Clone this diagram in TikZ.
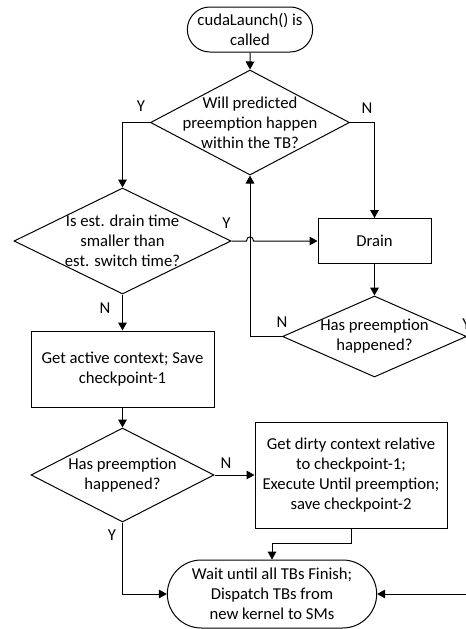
\documentclass[tikz,border=0pt]{standalone}
\usepackage{fontspec}
\setmainfont{Carlito}
\usetikzlibrary{shapes.geometric,shapes.misc,arrows.meta}

\begin{document}
\begin{tikzpicture}[x=0.75pt,y=-0.75pt,line width=0.75pt,
    >={Triangle[length=6pt,width=6.5pt]},
    every node/.style={font=\fontsize{12.5}{15}\selectfont},
    term/.style={draw,rounded rectangle,align=center,inner sep=1pt},
    proc/.style={draw,rectangle,align=center,inner sep=1pt},
    dmd/.style={draw,diamond,inner sep=0pt},
    txt/.style={align=center,inner sep=0pt}]
    \useasboundingbox (0,0) rectangle (465,629);
    % start and decisions
    \node[term,minimum width=96pt,minimum height=33.75pt] (start) at (250,29.5) {cudaLaunch() is\\called};
    \node[dmd,minimum width=149.25pt,minimum height=78.75pt] (pred) at (250,122.5) {};
    \node[txt] (predtxt) at (pred) {Will predicted\\preemption happen\\within the TB?};
    \node[dmd,minimum width=162.75pt,minimum height=79.5pt] (cmp) at (122.5,241) {};
    \node[txt] (cmptxt) at (cmp) {Is est. drain time\\smaller than\\est. switch time?};
    \node[proc,minimum width=84.75pt,minimum height=33.75pt] (drain) at (374.5,241) {Drain};
    \node[dmd,minimum width=138pt,minimum height=60.75pt] (hasA) at (374.5,336.5) {};
    \node[txt] (hasAtxt) at (hasA) {Has preemption\\happened?};
    % checkpoint path
    \node[proc,minimum width=137.25pt,minimum height=57pt] (save) at (122.5,369) {Get active context; Save\\checkpoint-1};
    \node[dmd,minimum width=137.25pt,minimum height=70.5pt] (hasB) at (122.5,475) {};
    \node[txt] (hasBtxt) at (hasB) {Has preemption\\happened?};
    \node[proc,minimum width=144pt,minimum height=79.5pt] (dirty) at (351,475) {Get dirty context relative\\to checkpoint-1;\\Execute Until preemption;\\save checkpoint-2};
    \node[term,minimum width=159pt,minimum height=51pt] (done) at (272,594) {Wait until all TBs Finish;\\Dispatch TBs from\\new kernel to SMs};
    % Y/N marks
    \node (y1) at (141,106) {Y};
    \node (n1) at (367,108) {N};
    \node (y2) at (226.5,223) {Y};
    \node (n2) at (105,308) {N};
    \node (n3) at (282,322) {N};
    \node (y3) at (466.5,324) {Y};
    \node (n4) at (226,463) {N};
    \node (y4) at (112,535) {Y};
    % connectors
    \draw[->] (start) -- (pred);
    \draw[->] (pred.west) -| (cmp.north);
    \draw[->] (pred.east) -| (drain.north);
    \draw[->] (cmp.east) -- (246.5,241) .. controls (246.5,235.5) and (253.5,235.5) .. (253.5,241) -- (drain.west);
    \draw[->] (drain) -- (hasA);
    \draw[->] (hasA.west) -| (pred.south);
    \draw[->] (hasA.east) -- ++(15,0) |- (done.east);
    \draw[->] (cmp.south) -- (save.north);
    \draw[->] (save) -- (hasB);
    \draw[->] (hasB.east) -- (dirty.west);
    \draw[->] (dirty.south) -- ++(0,15) -| (done.north);
    \draw[->] (hasB.south) |- (done.west);
\end{tikzpicture}
\end{document}
